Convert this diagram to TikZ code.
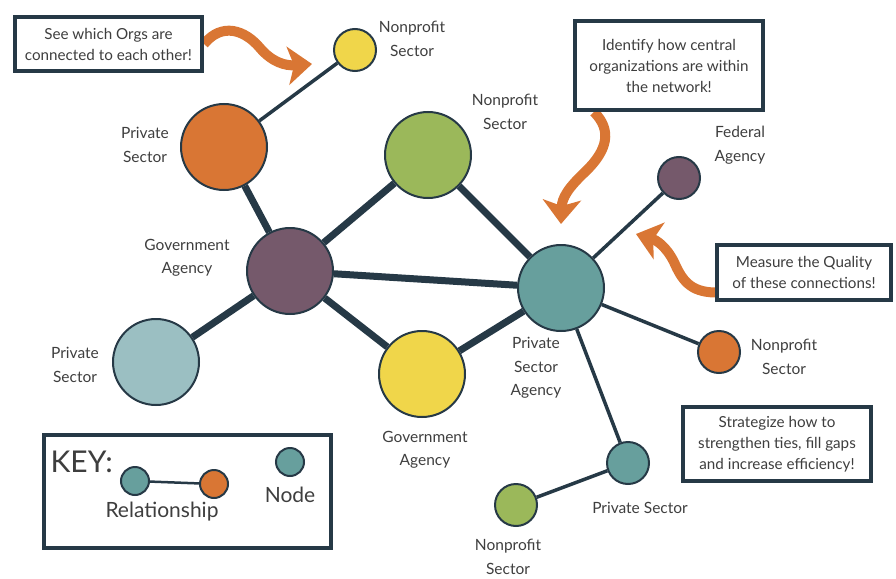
\documentclass[tikz,border=0pt]{standalone}
\usepackage{fontspec}
\setmainfont{Lato}
\usepackage{tikz}
\definecolor{ink}{RGB}{38,57,70}
\definecolor{words}{RGB}{62,62,62}
\definecolor{pumpkin}{RGB}{217,118,52}
\definecolor{lemon}{RGB}{240,214,74}
\definecolor{moss}{RGB}{155,184,90}
\definecolor{plum}{RGB}{117,89,107}
\definecolor{sea}{RGB}{103,159,157}
\definecolor{mist}{RGB}{155,191,194}
\usetikzlibrary{arrows.meta,backgrounds}

\begin{document}
\begin{tikzpicture}[x=1pt,y=-1pt,
        org/.style={circle,draw=ink,line width=2pt,inner sep=0pt,minimum size=#1},
        org/.default=86pt,
        tie/.style={draw=ink,line width=7pt},
        weaktie/.style={draw=ink,line width=3.5pt},
        lbl/.style={text=words,align=center,font=\fontsize{15.5}{23.5}\selectfont},
        note/.style={draw=ink,line width=4pt,fill=white,text=words,align=center,
            inner sep=0pt,font=\fontsize{15.2}{21}\selectfont},
        hint/.style={draw=pumpkin,line width=10pt,
            -{Stealth[length=24pt,width=38pt,inset=6pt]}}]
        \useasboundingbox (0,0) rectangle (896,578);

        \node[org,fill=plum] (gov) at (290,271) {};
        \node[org,fill=pumpkin] (priv) at (224,147) {};
        \node[org,fill=moss] (np) at (428,155) {};
        \node[org,fill=sea] (hub) at (561,288) {};
        \node[org,fill=mist] (priv2) at (156,362) {};
        \node[org,fill=lemon] (gov2) at (422,374) {};
        \node[org=42pt,fill=lemon] (np1) at (355,50) {};
        \node[org=42pt,fill=plum] (fed) at (679,178) {};
        \node[org=42pt,fill=pumpkin] (np2) at (719,352) {};
        \node[org=42pt,fill=sea] (priv3) at (628,463) {};
        \node[org=42pt,fill=moss] (np3) at (516,505) {};

        \node[lbl] at (412,39) {Nonprofit\\Sector};
        \node[lbl] at (145,145) {Private\\Sector};
        \node[lbl] at (505,112) {Nonprofit\\Sector};
        \node[lbl] at (187,258) {Government\\Agency};
        \node[lbl] at (740,145) {Federal\\Agency};
        \node[lbl] at (75,365) {Private\\Sector};
        \node[lbl] at (425,450) {Government\\Agency};
        \node[lbl] at (536,368) {Private\\Sector\\Agency};
        \node[lbl] at (784,357) {Nonprofit\\Sector};
        \node[lbl] at (640,508) {Private Sector};
        \node[lbl] at (508,557) {Nonprofit\\Sector};

        \node[note,minimum width=187pt,minimum height=54pt] (see) at (108.5,44)
            {See which Orgs are\\connected to each other!};
        \node[note,minimum width=188pt,minimum height=89pt] (central) at (669,65.5)
            {Identify how central\\organizations are within\\the network!};
        \node[note,minimum width=174pt,minimum height=55pt] (quality) at (804,272.5)
            {Measure the Quality\\of these connections!};
        \node[note,minimum width=188pt,minimum height=74pt] (plan) at (777,444)
            {Strategize how to\\strengthen ties, fill gaps\\and increase efficiency!};

        \node[note,fill=none,minimum width=287pt,minimum height=113pt] (key) at (187.5,491.5) {};
        \node[text=words,font=\fontsize{30}{30}\selectfont,anchor=west] (keytitle) at (47,462) {KEY:};
        \node[org=28pt,fill=sea] (keya) at (135,481) {};
        \node[org=28pt,fill=pumpkin] (keyb) at (214,484) {};
        \node[org=28pt,fill=sea] (keynode) at (290,462) {};
        \node[text=words,font=\fontsize{21}{21}\selectfont] at (162,512) {Relationship};
        \node[text=words,font=\fontsize{21}{21}\selectfont] at (290,495) {Node};

        \coordinate (seetip) at (312,64);
        \coordinate (centraltip) at (561,224);
        \coordinate (qualitytip) at (636,234);

        \begin{scope}[on background layer]
            \draw[tie] (priv) -- (gov);
            \draw[tie] (gov) -- (np);
            \draw[tie] (gov) -- (hub);
            \draw[tie] (gov) -- (priv2);
            \draw[tie] (gov) -- (gov2);
            \draw[tie] (np) -- (hub);
            \draw[tie] (gov2) -- (hub);
            \draw[weaktie] (priv) -- (np1);
            \draw[weaktie] (hub) -- (fed);
            \draw[weaktie] (hub) -- (np2);
            \draw[weaktie] (hub) -- (priv3);
            \draw[weaktie] (priv3) -- (np3);
            \draw[draw=ink,line width=2.5pt] (keya) -- (keyb);

            \draw[hint] (see.east) .. controls (222,22) and (245,30) .. (260,48)
                .. controls (272,62) and (285,66) .. (seetip);
            \draw[hint] ([xshift=-75pt]central.south) .. controls (612,130) and (608,150) .. (585,172)
                .. controls (568,188) and (562,198) .. (centraltip);
            \draw[hint] ([yshift=-20pt]quality.west) .. controls (690,292) and (682,280) .. (674,262)
                .. controls (666,246) and (656,240) .. (qualitytip);
        \end{scope}
    \end{tikzpicture}
\end{document}
